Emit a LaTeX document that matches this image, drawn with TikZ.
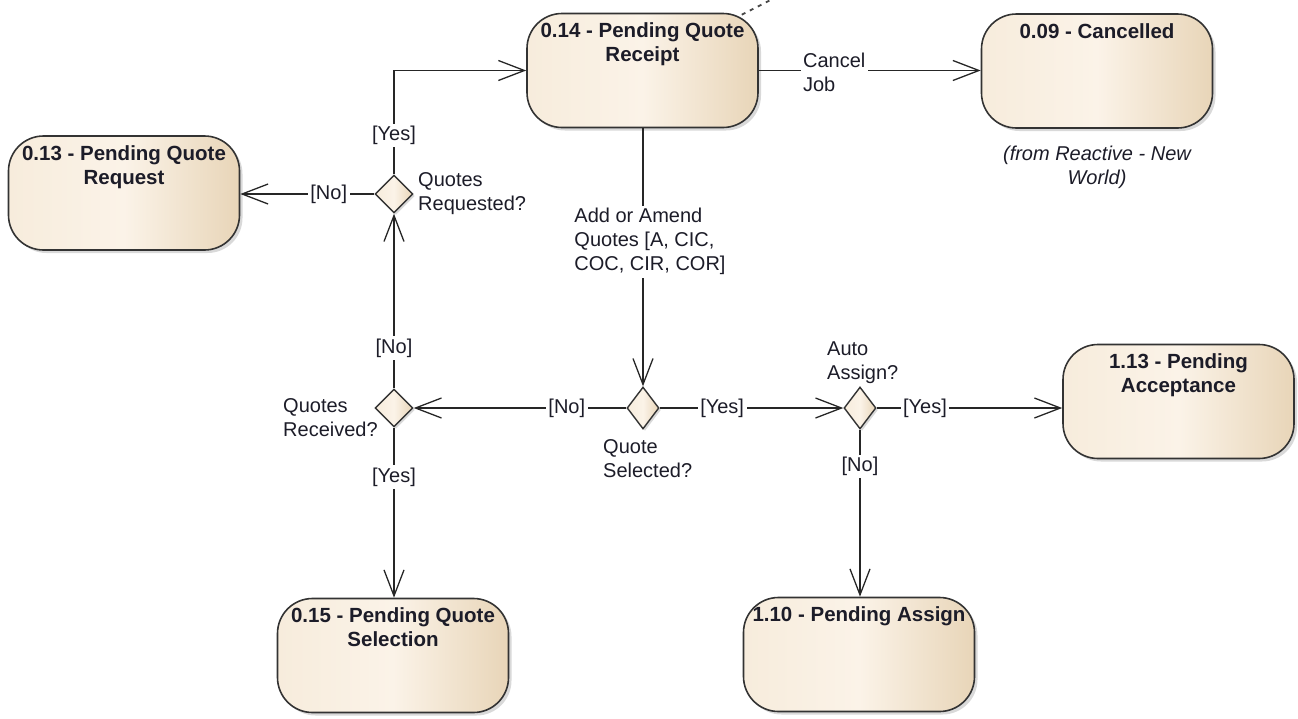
\documentclass[tikz,border=0pt]{standalone}
\usepackage{fontspec}
\setmainfont{Liberation Sans}
\usetikzlibrary{arrows.meta,shapes.geometric,shadows,calc}
\definecolor{txt}{HTML}{1C1C28}
\definecolor{bord}{HTML}{333333}
\definecolor{lineC}{HTML}{262626}
\definecolor{fillL}{HTML}{F7ECDC}
\definecolor{fillM}{HTML}{FBF3E8}
\definecolor{fillR}{HTML}{E8D5B8}
\begin{document}
\begin{tikzpicture}[x=1pt,y=-1pt,
  every node/.style={text=txt, font=\fontsize{20}{24}\selectfont},
  box/.style={rectangle, rounded corners=35pt, minimum width=231pt, minimum height=114pt,
    draw=bord, line width=1.6pt, left color=fillL, right color=fillR, middle color=fillM,
    inner sep=0pt, drop shadow={shadow xshift=3pt, shadow yshift=-3pt, opacity=0.3}},
  title/.style={anchor=north, yshift=-10pt, align=center, inner sep=0pt,
    font=\bfseries\fontsize{20.5}{24}\selectfont},
  dia/.style={shape=diamond, inner sep=0pt, draw=bord, line width=1.4pt,
    left color=fillL, right color=fillR, middle color=fillM,
    drop shadow={shadow xshift=2pt, shadow yshift=-2pt, opacity=0.3}},
  diabig/.style={dia, minimum width=38pt, minimum height=38pt},
  diatall/.style={dia, minimum width=32pt, minimum height=42pt},
  dlab/.style={anchor=north west, align=left, inner sep=0pt},
  conn/.style={draw=lineC, line width=1.3pt},
  arr/.style={-{Straight Barb[length=26pt,width=20pt,line width=1.3pt]}},
  elab/.style={fill=white, inner sep=2.5pt},
  dashline/.style={draw=lineC!85, line width=1.8pt, dash pattern=on 4pt off 5pt}
]
\useasboundingbox (0,0) rectangle (1298,718);

% states
\node[box, label={[title]north:{0.14 - Pending Quote\\Receipt}}] (q14) at (642.5,70.5) {};
\node[box, label={[title]north:{0.09 - Cancelled}}] (q09) at (1097,71) {};
\node[box, label={[title]north:{0.13 - Pending Quote\\Request}}] (q13) at (124,193) {};
\node[box, label={[title]north:{1.13 - Pending\\Acceptance}}] (q113) at (1178.5,401.5) {};
\node[box, label={[title]north:{0.15 - Pending Quote\\Selection}}] (q15) at (393,655.5) {};
\node[box, label={[title]north:{1.10 - Pending Assign}}] (q110) at (859,654.5) {};

\node[anchor=north, align=center, inner sep=0pt, font=\itshape\fontsize{20}{24}\selectfont]
  (from) at (1097,146) {(from Reactive - New\\World)};

% decisions
\node[diabig] (qreq) at (394,194) {};
\node[diabig] (qrec) at (394,408) {};
\node[diatall] (qsel) at (643,408) {};
\node[diatall] (aa) at (860,408) {};

\node[dlab] (qreqlab) at (418,172) {Quotes\\Requested?};
\node[dlab] (qreclab) at (283,398) {Quotes\\Received?};
\node[dlab] (qsellab) at (603,439) {Quote\\Selected?};
\node[dlab] (aalab) at (827,342) {Auto\\Assign?};

% dashed link
\coordinate (dashend) at (792,-11);
\draw[dashline] ($(q14.north east)+(-17,2)$) -- (dashend);

% transitions
\draw[conn,arr] (qreq.north) |- node[elab,pos=0.187]{[Yes]} (q14.west);
\draw[conn,arr] (qreq.west) -- node[elab,pos=0.34]{[No]} (qreq.west -| q13.east);
\draw[conn,arr] (qrec.north) -- node[elab,pos=0.23]{[No]} (qreq.south);
\draw[conn,arr] (qrec.south) -- node[elab,pos=0.29]{[Yes]} (qrec.south |- q15.north);
\draw[conn,arr] (qsel.west) -- node[elab,pos=0.28]{[No]} (qrec.east);
\draw[conn,arr] (qsel.north |- q14.south) -- node[elab,pos=0.44,align=left,xshift=7pt]{Add or Amend\\Quotes [A, CIC,\\COC, CIR, COR]} (qsel.north);
\draw[conn,arr] (qsel.east) -- node[elab,pos=0.34]{[Yes]} (aa.west);
\draw[conn,arr] (aa.east) -- node[elab,pos=0.26]{[Yes]} (aa.east -| q113.west);
\draw[conn,arr] (aa.south) -- node[elab,pos=0.22]{[No]} (aa.south |- q110.north);
\draw[conn,arr] (q14.east) -- node[elab,pos=0.34,align=left,yshift=-2pt]{Cancel\\Job} (q14.east -| q09.west);
\end{tikzpicture}
\end{document}
